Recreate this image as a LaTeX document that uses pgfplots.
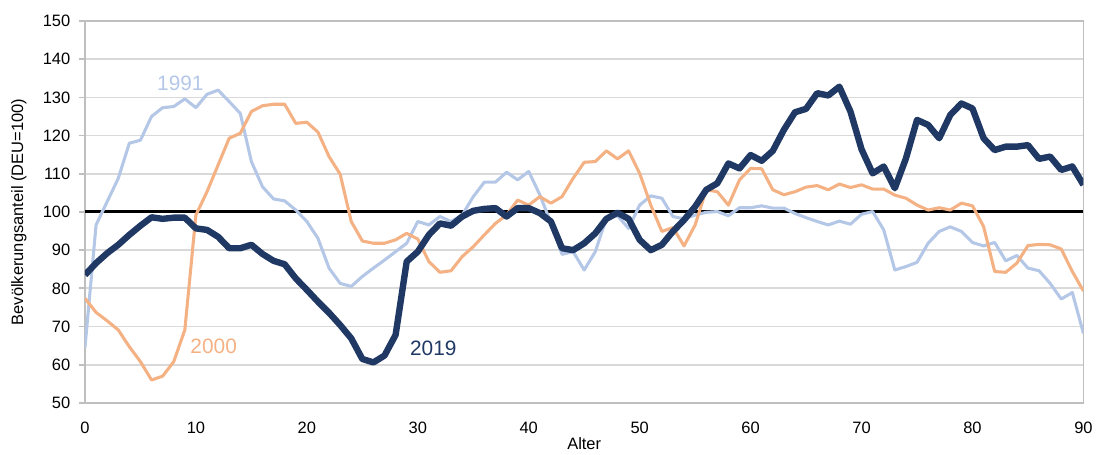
\documentclass[border=0pt]{standalone}
\usepackage{pgfplots}
\usepackage{pgfplotstable}
\pgfplotsset{compat=1.18}
\usepackage{fontspec}
\setmainfont{Liberation Sans}
\usetikzlibrary{calc}

\definecolor{c1991}{HTML}{B4C7E7}
\definecolor{c2000}{HTML}{F4B183}
\definecolor{c2019}{HTML}{203864}
\definecolor{gridc}{HTML}{D9D9D9}
\definecolor{axc}{HTML}{BFBFBF}

% Alter, 1991, 2000, 2019
\pgfplotstableread{
age  a1991  a2000  a2019
0    64.5   77.4   83.5
1    96.6   73.7   86.6
2    102.7  71.5   89.2
3    108.8  69.1   91.4
4    118.0  64.7   94.0
5    118.8  60.8   96.4
6    125.0  56.0   98.6
7    127.3  57.0   98.2
8    127.6  60.8   98.5
9    129.6  69.1   98.5
10   127.3  99.2   95.7
11   130.8  105.3  95.3
12   131.9  112.3  93.5
13   128.9  119.3  90.5
14   125.8  120.6  90.5
15   113.2  126.3  91.4
16   106.6  127.8  89.0
17   103.4  128.2  87.2
18   102.9  128.2  86.3
19   100.5  123.2  82.6
20   97.5   123.5  79.6
21   93.1   120.9  76.5
22   85.3   114.5  73.6
23   81.3   109.9  70.4
24   80.5   97.5   66.9
25   83.1   92.4   61.5
26   85.3   91.8   60.6
27   87.4   91.8   62.4
28   89.6   92.7   67.8
29   91.8   94.4   87.0
30   97.5   92.9   89.6
31   96.6   87.0   94.0
32   98.8   84.2   97.0
33   97.5   84.6   96.4
34   99.2   88.3   98.8
35   104.0  90.9   100.3
36   107.8  94.0   100.8
37   107.8  97.0   101.0
38   110.4  99.2   98.8
39   108.4  103.1  101.0
40   110.6  101.8  101.0
41   104.5  104.0  99.7
42   97.1   102.3  97.5
43   88.9   104.0  90.5
44   89.6   108.8  90.0
45   84.8   113.0  91.8
46   89.6   113.2  94.4
47   98.3   116.0  98.2
48   99.0   113.9  99.8
49   95.7   116.0  98.2
50   101.8  110.1  92.7
51   104.2  101.8  90.0
52   103.6  94.9   91.4
53   98.8   95.9   94.9
54   98.2   91.1   97.9
55   99.2   96.6   101.4
56   99.9   105.8  105.8
57   100.1  105.3  107.5
58   99.0   101.8  112.7
59   101.1  108.4  111.4
60   101.1  111.4  114.9
61   101.6  111.3  113.4
62   101.0  105.8  116.0
63   101.0  104.5  121.5
64   99.6   105.3  126.1
65   98.5   106.5  127.0
66   97.5   106.9  131.1
67   96.6   105.8  130.5
68   97.6   107.3  132.8
69   96.8   106.4  126.3
70   99.4   107.1  116.4
71   100.1  106.0  110.1
72   95.3   106.0  111.9
73   84.8   104.4  106.2
74   85.7   103.6  114.0
75   86.8   101.8  124.1
76   91.8   100.5  122.8
77   94.9   101.1  119.3
78   96.1   100.5  125.4
79   94.9   102.3  128.4
80   92.0   101.6  127.1
81   91.1   96.2   119.3
82   92.0   84.4   116.2
83   87.2   84.2   117.1
84   88.6   86.6   117.1
85   85.3   91.2   117.5
86   84.6   91.5   113.9
87   81.3   91.4   114.5
88   77.2   90.3   111.0
89   78.9   84.4   111.9
90   68.2   79.3   107.1
}\bev

\begin{document}
\begin{tikzpicture}
\begin{axis}[
  scale only axis, width=749bp, height=286.5bp,
  xmin=0, xmax=90, ymin=50, ymax=150,
  xtick={0,10,...,90}, ytick={50,60,...,150},
  ymajorgrids, grid style={gridc, line width=1.3bp},
  axis line style={axc, line width=1.3bp},
  tick align=outside, major tick length=4.5bp,
  xtick style={draw=none},
  ytick style={axc, line width=1.3bp},
  ytick pos=left, xtick pos=bottom,
  ticklabel style={font=\fontsize{12.4}{14}\selectfont},
  /pgf/number format/assume math mode=true,
  yticklabel style={xshift=-3bp},
  xticklabel style={yshift=-6bp},
  xlabel={Alter}, ylabel={Bevölkerungsanteil (DEU=100)},
  label style={font=\fontsize{12.4}{14}\selectfont},
  xlabel style={at={(axis description cs:0.5,-0.1073)}, anchor=center},
  ylabel style={at={(axis description cs:-0.0661,0.5)}, anchor=center},
  every axis plot/.append style={line join=round},
]
\addplot[black, line width=2.2bp] coordinates {(0,100) (90,100)};
\addplot[c1991, line width=2.3bp] table[x=age, y=a1991] {\bev};
\addplot[c2000, line width=2.3bp] table[x=age, y=a2000] {\bev};
\addplot[c2019, line width=4.8bp] table[x=age, y=a2019] {\bev};
\node[c1991, font=\fontsize{15.7}{18}\selectfont] at (axis cs:8.6,133.8) {1991};
\node[c2000, font=\fontsize{15.7}{18}\selectfont] at (axis cs:11.6,64.8) {2000};
\node[c2019, font=\fontsize{15.7}{18}\selectfont] at (axis cs:31.4,64.3) {2019};
\end{axis}
\path ($(current axis.south west)+(-63.75bp,-37.5bp)$) rectangle ($(current axis.north east)+(9.75bp,15.75bp)$);
\end{tikzpicture}
\end{document}
